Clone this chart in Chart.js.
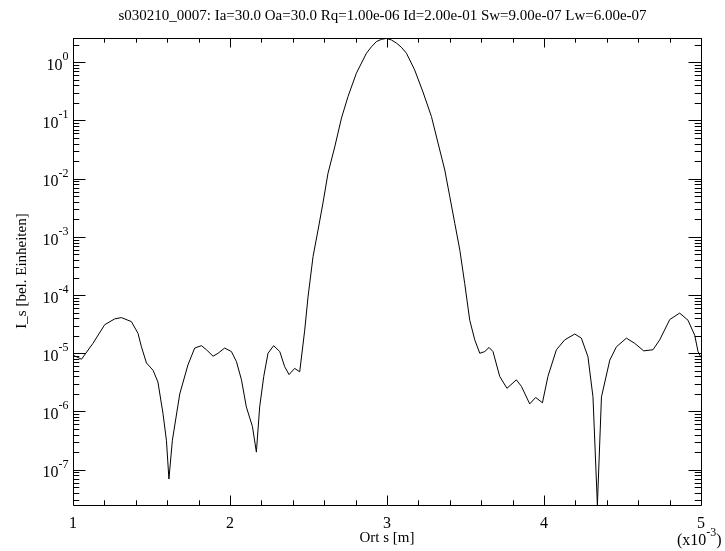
<!DOCTYPE html>
<html>
<head>
<meta charset="utf-8">
<script src="https://cdn.jsdelivr.net/npm/chart.js@4.4.1/dist/chart.umd.min.js"></script>
<style>
html,body{margin:0;padding:0;background:#fff;}
#c{display:block;}
</style>
</head>
<body>
<canvas id="c" width="725" height="551"></canvas>
<script>
// ---- data (x in units of 1e-3 m) ----
const xValues = [1.000,1.054,1.127,1.202,1.266,1.308,1.372,1.414,1.436,1.468,1.510,1.541,1.573,1.595,1.611,1.633,1.680,1.732,1.775,1.818,1.850,1.892,1.924,1.966,2.009,2.041,2.073,2.104,2.143,2.168,2.189,2.215,2.242,2.278,2.317,2.348,2.376,2.412,2.444,2.476,2.497,2.529,2.561,2.592,2.624,2.667,2.710,2.752,2.805,2.869,2.901,2.932,2.964,2.996,3.028,3.060,3.092,3.124,3.176,3.229,3.283,3.325,3.368,3.400,3.432,3.464,3.495,3.527,3.559,3.591,3.623,3.650,3.675,3.718,3.764,3.824,3.856,3.909,3.947,3.990,4.025,4.079,4.132,4.196,4.238,4.280,4.312,4.340,4.366,4.419,4.461,4.525,4.578,4.635,4.694,4.737,4.801,4.864,4.917,4.960,4.981,5.000];
const yValues = [9.3e-6,7.9e-6,1.48e-5,3.1e-5,3.9e-5,4.1e-5,3.5e-5,2.2e-5,1.29e-5,6.8e-6,5.1e-6,3.2e-6,9.3e-7,3.2e-7,6.9e-8,3.2e-7,2.0e-6,6.3e-6,1.23e-5,1.35e-5,1.15e-5,8.9e-6,1.0e-5,1.23e-5,1.07e-5,7.2e-6,3.5e-6,1.2e-6,5.5e-7,2.0e-7,1.2e-6,4.0e-6,1.0e-5,1.35e-5,1.07e-5,5.9e-6,4.3e-6,5.5e-6,4.8e-6,2.5e-5,9.3e-5,4.6e-4,1.32e-3,3.8e-3,1.23e-2,3.5e-2,0.11,0.26,0.65,1.43,1.85,2.26,2.48,2.57,2.42,2.14,1.81,1.43,0.74,0.31,0.117,0.041,0.0141,4.9e-3,1.7e-3,5.9e-4,1.58e-4,3.7e-5,1.7e-5,1.0e-5,1.07e-5,1.26e-5,1.07e-5,4.0e-6,2.5e-6,3.5e-6,2.7e-6,1.35e-6,1.74e-6,1.41e-6,4.0e-6,1.15e-5,1.7e-5,2.14e-5,1.82e-5,8.7e-6,1.78e-6,2.47e-8,1.78e-6,7.6e-6,1.29e-5,1.82e-5,1.48e-5,1.1e-5,1.15e-5,1.7e-5,3.8e-5,4.9e-5,3.7e-5,2.04e-5,1.07e-5,8.5e-6];
const xTickLabels = [1, 2, 3, 4, 5];
const yTickExponents = [0, -1, -2, -3, -4, -5, -6, -7];
const xRange = [1, 5];
const yRange = [2.47e-8, 2.615];
const titleText = "s030210_0007: Ia=30.0 Oa=30.0 Rq=1.00e-06 Id=2.00e-01 Sw=9.00e-07 Lw=6.00e-07";
const xAxisTitle = "Ort s [m]";
const yAxisTitle = "I_s [bel. Einheiten]";
const xScaleText = "(x10";
const xScaleExp = "-3";

const FONT = '"Liberation Serif", "Times New Roman", serif';

const idlAxes = {
  id: 'idlAxes',
  afterDraw(chart) {
    const ctx = chart.ctx;
    const a = chart.chartArea;
    const xs = chart.scales.x, ys = chart.scales.y;
    ctx.save();
    ctx.strokeStyle = '#000';
    ctx.fillStyle = '#000';
    ctx.lineWidth = 1;
    // frame
    ctx.beginPath();
    ctx.rect(a.left + 0.5, a.top + 0.5, a.right - a.left, a.bottom - a.top);
    ctx.stroke();
    // x ticks
    ctx.beginPath();
    for (let i = 0; i <= 20; i++) {
      const v = xRange[0] + i * 0.2;
      const px = Math.round(xs.getPixelForValue(v)) + 0.5;
      const len = (i % 5 === 0) ? 9.5 : 4.7;
      ctx.moveTo(px, a.bottom); ctx.lineTo(px, a.bottom - len);
      ctx.moveTo(px, a.top); ctx.lineTo(px, a.top + len);
    }
    // y ticks (log)
    for (let n = -9; n <= 1; n++) {
      for (let k = 1; k <= 9; k++) {
        const v = k * Math.pow(10, n);
        if (v < yRange[0] || v > yRange[1]) continue;
        const py = Math.round(ys.getPixelForValue(v)) + 0.5;
        const len = (k === 1) ? 12.5 : 6.3;
        ctx.moveTo(a.left, py); ctx.lineTo(a.left + len, py);
        ctx.moveTo(a.right, py); ctx.lineTo(a.right - len, py);
      }
    }
    ctx.stroke();

    // x tick labels
    ctx.font = '16px ' + FONT;
    ctx.textAlign = 'center';
    ctx.textBaseline = 'alphabetic';
    xTickLabels.forEach(v => {
      ctx.fillText(String(v), xs.getPixelForValue(v), 528);
    });
    // y tick labels 10^e
    yTickExponents.forEach(e => {
      const py = ys.getPixelForValue(Math.pow(10, e));
      ctx.textAlign = 'right';
      ctx.font = '12px ' + FONT;
      const es = String(e);
      const w = ctx.measureText(es).width;
      ctx.fillText(es, 68.5, py - 2);
      ctx.font = '16px ' + FONT;
      ctx.fillText('10', 68.5 - w, py + 7.7);
    });
    // (x10^-3)
    ctx.textAlign = 'left';
    ctx.font = '16px ' + FONT;
    let xx = 677;
    ctx.fillText(xScaleText, xx, 545);
    xx += ctx.measureText(xScaleText).width;
    ctx.font = '12px ' + FONT;
    ctx.fillText(xScaleExp, xx, 536);
    xx += ctx.measureText(xScaleExp).width;
    ctx.font = '16px ' + FONT;
    ctx.fillText(')', xx, 545);

    // title
    ctx.font = '15px ' + FONT;
    ctx.textAlign = 'center';
    ctx.fillText(titleText, 382.5, 20);
    // x axis title
    ctx.fillText(xAxisTitle, 387, 542);
    // y axis title
    ctx.save();
    ctx.translate(26, 271);
    ctx.rotate(-Math.PI / 2);
    ctx.textAlign = 'center';
    ctx.fillText(yAxisTitle, 0, 0);
    ctx.restore();

    ctx.restore();
  }
};

const points = xValues.map((v, i) => ({ x: v, y: yValues[i] }));

new Chart(document.getElementById('c'), {
  type: 'line',
  data: {
    datasets: [{
      data: points,
      borderColor: '#000',
      borderWidth: 1,
      pointRadius: 0,
      tension: 0,
      fill: false
    }]
  },
  options: {
    responsive: false,
    devicePixelRatio: 1,
    animation: false,
    layout: { padding: { left: 73, right: 24, top: 38, bottom: 46 } },
    plugins: { legend: { display: false }, tooltip: { enabled: false }, title: { display: false } },
    scales: {
      x: { type: 'linear', min: xRange[0], max: xRange[1], display: false },
      y: { type: 'logarithmic', min: yRange[0], max: yRange[1], display: false }
    }
  },
  plugins: [idlAxes]
});
</script>
</body>
</html>
